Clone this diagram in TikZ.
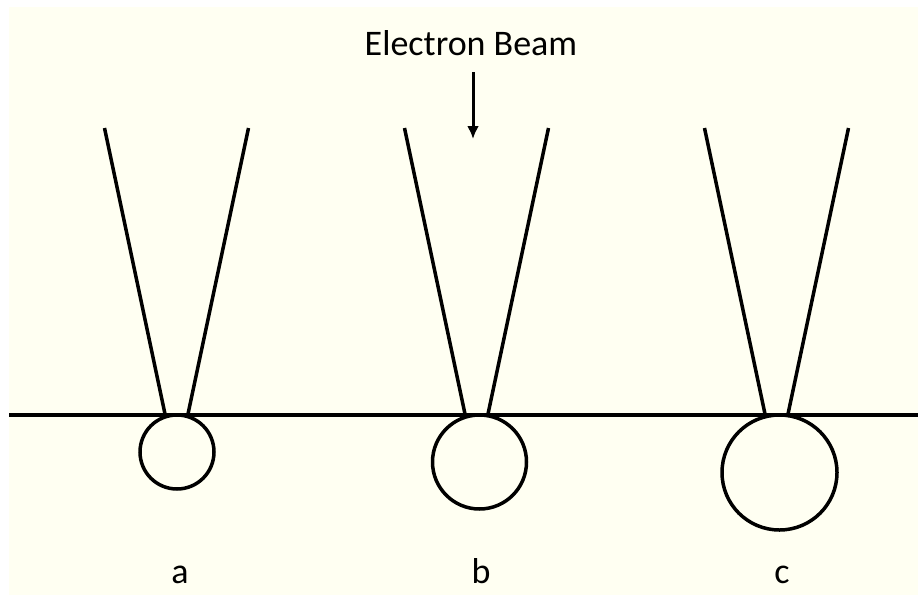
\documentclass[tikz,border=0pt]{standalone}
\usepackage{fontspec}
\setmainfont{Carlito}
\usetikzlibrary{arrows.meta}
\definecolor{ivory}{RGB}{255,255,242}

\begin{document}
\begin{tikzpicture}[x=1pt, y=-1pt, line width=3.5pt,
    font=\fontsize{36}{43}\selectfont,
    volume/.style={circle, draw, inner sep=0pt, outer sep=0pt}]
		\useasboundingbox (0,0) rectangle (918,595);
		% cream page
		\fill[ivory] (9,7) rectangle (918,595);
		% sample surface
		\coordinate (sl) at (9,415);
		\coordinate (sr) at (918,415);
		\draw (sl) -- (sr);
		% beam label and arrow
		\node[anchor=base] (beam) at (471,55) {Electron Beam};
		\coordinate (beamtop) at (473,72);
		\coordinate (beamtip) at (473,139);
		\draw[line width=3pt, -{Latex[length=13pt,width=12pt]}] (beamtop) -- (beamtip);
		% three cones with growing interaction volume
		\foreach \n/\x/\r/\cx/\lx in {a/176.5/37/177/180, b/476.5/47/479.5/481, c/776.5/57.5/779.5/782} {
			\coordinate (\n tl) at (\x-72,128);
			\coordinate (\n tr) at (\x+72,128);
			\coordinate (\n bl) at (\x-11.5,414);
			\coordinate (\n br) at (\x+11.5,414);
			\draw (\n tl) -- (\n bl);
			\draw (\n tr) -- (\n br);
			\node[volume, minimum size=2*\r pt] (vol\n) at (\cx,415+\r) {};
			\node[anchor=base] (lab\n) at (\lx,583) {\n};
		}
	\end{tikzpicture}
\end{document}
